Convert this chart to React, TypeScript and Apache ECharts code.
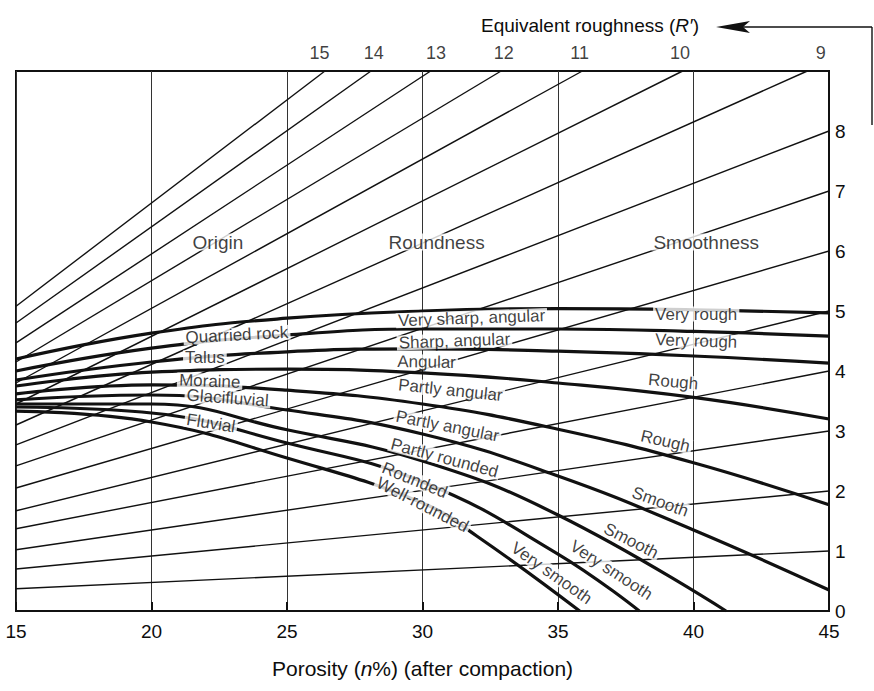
import React, { useEffect, useRef } from "react";
import * as echarts from "echarts";

// Equivalent roughness R' thin lines: start at porosity 15, end at (endX, endY)
const roughness = [1, 2, 3, 4, 5, 6, 7, 8, 9, 10, 11, 12, 13, 14, 15];
const roughStartY = [0.37, 0.7, 1.02, 1.37, 1.67, 2.05, 2.42, 2.77, 3.1, 3.45, 3.8, 4.15, 4.47, 4.8, 5.08];
const roughEndX = [45, 45, 45, 45, 45, 45, 45, 45, 44.2, 39.6, 35.9, 32.9, 30.3, 28.1, 26.4];
const roughEndY = [1, 2, 3, 4, 5, 6, 7, 8, 9, 9, 9, 9, 9, 9, 9];

// Top (R') tick labels
const topTickLabels = ["9", "10", "11", "12", "13", "14", "15"];
const topTickX = [44.7, 39.5, 35.8, 33.0, 30.5, 28.2, 26.2];

// Thick curves (origin / roundness / smoothness)
const curve1 = [[15, 4.2], [20, 4.63], [25, 4.88], [30, 5.0], [35, 5.04], [40, 5.02], [45, 4.97]];
const curve2 = [[15, 4.0], [20, 4.38], [25, 4.6], [30, 4.7], [35, 4.7], [40, 4.66], [45, 4.58]];
const curve3 = [[15, 3.85], [20, 4.15], [25, 4.32], [30, 4.37], [35, 4.33], [40, 4.25], [45, 4.13]];
const curve4 = [[15, 3.75], [20, 3.98], [25, 4.03], [30, 3.97], [35, 3.8], [40, 3.56], [45, 3.2]];
const curve5 = [[15, 3.62], [20, 3.77], [25, 3.68], [30, 3.45], [35, 3.03], [40, 2.47], [45, 1.77]];
const curve6 = [[15, 3.52], [20, 3.6], [25, 3.35], [30, 2.95], [35, 2.25], [40, 1.35], [45, 0.35]];
const curve7 = [[15, 3.45], [20, 3.45], [25, 3.02], [30, 2.5], [35, 1.6], [41.2, 0]];
const curve8 = [[15, 3.4], [20, 3.3], [25, 2.8], [30, 2.15], [35, 0.95], [38, 0]];
const curve9 = [[15, 3.33], [20, 3.15], [25, 2.55], [30, 1.8], [32, 1.25], [35.8, 0]];
const curves = [curve1, curve2, curve3, curve4, curve5, curve6, curve7, curve8, curve9];

// Text annotations
const sectionTitles = ["Origin", "Roundness", "Smoothness"];
const sectionX = [22.45, 30.52, 40.47];
const sectionY = [6.15, 6.15, 6.15];

const originLabels = ["Quarried rock", "Talus", "Moraine", "Glacifluvial", "Fluvial"];
const originX = [23.15, 21.97, 22.15, 22.81, 22.19];
const originY = [4.6, 4.22, 3.83, 3.55, 3.13];
const originRot = [3, 0, -2, -4, -9];

const roundLabels = ["Very sharp, angular", "Sharp, angular", "Angular", "Partly angular", "Partly angular", "Partly rounded", "Rounded", "Well-rounded"];
const roundX = [31.81, 31.18, 30.15, 31.03, 30.92, 30.81, 29.71, 30.0];
const roundY = [4.88, 4.5, 4.15, 3.68, 3.08, 2.55, 2.18, 1.77];
const roundRot = [2, 2, -1, -6, -11, -15, -22, -27];

const smoothLabels = ["Very rough", "Very rough", "Rough", "Rough", "Smooth", "Smooth", "Very smooth", "Very smooth"];
const smoothX = [40.1, 40.1, 39.25, 38.96, 38.77, 37.7, 36.97, 34.76];
const smoothY = [4.95, 4.5, 3.82, 2.83, 1.82, 1.17, 0.68, 0.63];
const smoothRot = [0, -2, -5, -13, -20, -27, -33, -35];

const FONT = "'Liberation Sans', Arial, Helvetica, sans-serif";
const INK = "#111111";
const TXT = "#0d0d0d";

function labelSeries(names: string[], xs: number[], ys: number[], rots: number[], size: number) {
  return {
    type: "scatter",
    z: 10,
    symbolSize: 0,
    silent: true,
    clip: false,
    data: names.map((n, i) => ({
      name: n,
      value: [xs[i], ys[i]],
      label: { rotate: rots[i] },
    })),
    label: {
      show: true,
      position: "inside",
      formatter: "{b}",
      color: TXT,
      fontFamily: FONT,
      fontSize: size,
      backgroundColor: "#ffffff",
      padding: [-1, 2, -1, 2],
    },
  };
}

export default function App() {
  const ref = useRef<HTMLDivElement>(null);
  useEffect(() => {
    if (!ref.current) return;
    const chart = echarts.init(ref.current, null, { renderer: "svg" });

    const thinSeries = roughness.map((r, i) => ({
      type: "line",
      name: "R" + r,
      z: 2,
      symbol: "none",
      silent: true,
      lineStyle: { color: INK, width: 1.4 },
      data: [
        [15, roughStartY[i]],
        [roughEndX[i], roughEndY[i]],
      ],
    }));

    const thickSeries = curves.map((c, i) => ({
      type: "line",
      name: "C" + (i + 1),
      z: 3,
      symbol: "none",
      silent: true,
      smooth: 0.45,
      lineStyle: { color: INK, width: 3.2 },
      data: c,
    }));

    const topLabels = {
      type: "scatter",
      z: 10,
      symbolSize: 0,
      silent: true,
      clip: false,
      data: topTickLabels.map((t, i) => ({ name: t, value: [topTickX[i], 9] })),
      label: {
        show: true,
        position: "top",
        distance: 9,
        formatter: "{b}",
        color: TXT,
        fontFamily: FONT,
        fontSize: 18,
      },
    };

    chart.setOption({
      animation: false,
      backgroundColor: "#ffffff",
      title: {
        text: "Equivalent roughness ({i|R′})",
        left: 476,
        top: 11,
        textStyle: {
          fontFamily: FONT,
          fontSize: 19,
          fontWeight: "normal",
          color: TXT,
          rich: {
            i: { fontFamily: FONT, fontSize: 19, fontStyle: "italic", color: TXT },
          },
        },
      },
      graphic: [
        { type: "line", shape: { x1: 735, y1: 27, x2: 872, y2: 27 }, style: { stroke: INK, lineWidth: 1.4 } },
        { type: "line", shape: { x1: 872, y1: 27, x2: 872, y2: 125 }, style: { stroke: INK, lineWidth: 1.4 } },
        {
          type: "polygon",
          shape: { points: [[716, 27], [750, 21], [743, 27], [750, 33]] },
          style: { fill: INK },
        },
      ],
      grid: {
        left: 16,
        right: 45,
        top: 71,
        bottom: 80,
        show: true,
        borderColor: INK,
        borderWidth: 2,
        backgroundColor: "transparent",
      },
      xAxis: {
        type: "value",
        min: 15,
        max: 45,
        interval: 5,
        name: "Porosity ({i|n}%) (after compaction)",
        nameLocation: "middle",
        nameGap: 47,
        nameTextStyle: {
          fontFamily: FONT,
          fontSize: 21,
          color: TXT,
          rich: { i: { fontFamily: FONT, fontSize: 21, fontStyle: "italic", color: TXT } },
        },
        axisLine: { show: true, lineStyle: { color: INK, width: 2 } },
        axisTick: { show: true, inside: true, length: 9, lineStyle: { color: INK, width: 2 } },
        axisLabel: { fontFamily: FONT, fontSize: 19, color: TXT, margin: 11 },
        splitLine: { show: true, lineStyle: { color: "#333333", width: 1 } },
      },
      yAxis: {
        type: "value",
        position: "right",
        min: 0,
        max: 9,
        interval: 1,
        axisLine: { show: true, lineStyle: { color: INK, width: 2 } },
        axisTick: { show: false },
        axisLabel: {
          fontFamily: FONT,
          fontSize: 19,
          color: TXT,
          margin: 6,
          formatter: (v: number) => (v === 9 ? "" : String(v)),
        },
        splitLine: { show: false },
      },
      series: [
        ...thinSeries,
        ...thickSeries,
        topLabels,
        labelSeries(sectionTitles, sectionX, sectionY, [0, 0, 0], 19),
        labelSeries(originLabels, originX, originY, originRot, 17),
        labelSeries(roundLabels, roundX, roundY, roundRot, 17),
        labelSeries(smoothLabels, smoothX, smoothY, smoothRot, 17),
      ],
    });
    return () => chart.dispose();
  }, []);
  return (
    <div
      ref={ref}
      style={{ position: "absolute", left: 0, top: 0, width: 874, height: 691, background: "#fff" }}
    />
  );
}
